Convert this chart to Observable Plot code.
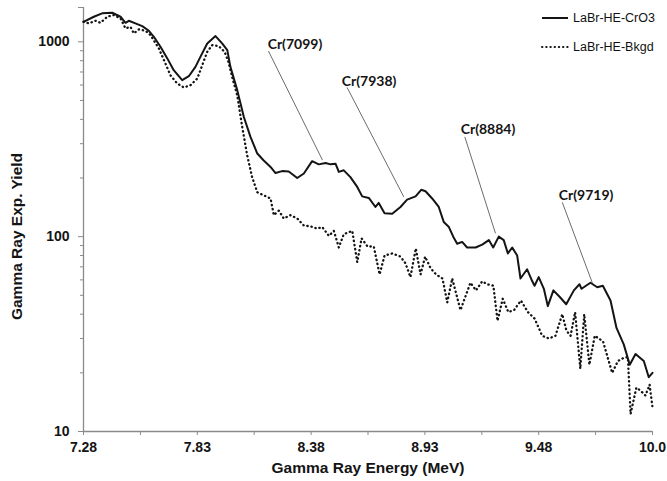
<!DOCTYPE html>
<html>
<head>
<meta charset="utf-8">
<script src="https://cdn.jsdelivr.net/npm/d3@7"></script>
<script src="https://cdn.jsdelivr.net/npm/@observablehq/plot@0.6"></script>
<style>
  html, body { margin: 0; padding: 0; background: #fff; overflow: hidden; }
  #chart { position: relative; width: 667px; height: 481px; }
  .legend-row { position: absolute; left: 541px; display: flex; align-items: center; height: 14px;
    font-family: "Liberation Sans", Arial, sans-serif; font-size: 12.5px; color: #111; }
  .legend-row svg { display: block; margin-right: 4px; }
</style>
</head>
<body>
<div id="chart"></div>
<script>
// LaBr-HE-CrO3 spectrum: gamma energy (MeV) and experimental yield
const crEnergy = [7.280, 7.330, 7.370, 7.419, 7.459, 7.483, 7.499, 7.531, 7.564, 7.596,
  7.620, 7.652, 7.685, 7.716, 7.757, 7.789, 7.821, 7.845, 7.878, 7.918,
  7.950, 7.975, 7.990, 8.023, 8.055, 8.087, 8.120, 8.151, 8.184, 8.208,
  8.240, 8.272, 8.313, 8.345, 8.385, 8.417, 8.450, 8.474, 8.498, 8.514,
  8.538, 8.570, 8.603, 8.627, 8.659, 8.691, 8.707, 8.735, 8.772, 8.812,
  8.844, 8.885, 8.912, 8.933, 8.965, 8.997, 9.021, 9.046, 9.067, 9.086,
  9.110, 9.134, 9.175, 9.207, 9.239, 9.260, 9.287, 9.311, 9.331, 9.352,
  9.376, 9.392, 9.424, 9.449, 9.460, 9.480, 9.505, 9.524, 9.551, 9.582,
  9.613, 9.650, 9.677, 9.687, 9.730, 9.763, 9.790, 9.827, 9.856, 9.891,
  9.920, 9.948, 9.988, 10.012, 10.030];
const crYield = [1267, 1345, 1400, 1410, 1345, 1252, 1282, 1243, 1204, 1139,
  1061, 943, 822, 715, 636, 666, 744, 837, 981, 1070,
  981, 906, 744, 565, 411, 325, 267, 246, 228, 212,
  217, 216, 200, 211, 244, 235, 239, 235, 237, 215,
  219, 202, 180, 161, 158, 142, 149, 132, 131, 142,
  155, 161, 174, 171, 157, 142, 119, 112, 100, 92,
  94, 88, 88, 91, 96, 88, 100, 96, 82, 88,
  80, 61, 68, 59, 56, 62, 54, 44, 53, 49,
  45, 53, 57, 54, 58, 55, 56, 47, 34, 28,
  22, 25, 23, 19, 20];

// LaBr-HE-Bkgd spectrum
const bkEnergy = [7.280, 7.306, 7.338, 7.362, 7.395, 7.426, 7.459, 7.483, 7.507, 7.523,
  7.547, 7.580, 7.604, 7.644, 7.676, 7.700, 7.733, 7.765, 7.797, 7.830,
  7.854, 7.878, 7.902, 7.934, 7.962, 7.981, 8.000, 8.023, 8.047, 8.071,
  8.095, 8.120, 8.151, 8.184, 8.200, 8.224, 8.248, 8.280, 8.313, 8.345,
  8.377, 8.409, 8.434, 8.466, 8.490, 8.514, 8.538, 8.579, 8.603, 8.624,
  8.653, 8.683, 8.711, 8.735, 8.772, 8.812, 8.836, 8.860, 8.886, 8.909,
  8.931, 8.957, 8.984, 9.015, 9.038, 9.062, 9.102, 9.150, 9.177, 9.207,
  9.231, 9.261, 9.281, 9.306, 9.333, 9.361, 9.394, 9.428, 9.460, 9.497,
  9.529, 9.561, 9.594, 9.614, 9.634, 9.656, 9.681, 9.700, 9.725, 9.751,
  9.791, 9.835, 9.863, 9.895, 9.911, 9.924, 9.952, 9.972, 9.996, 10.016,
  10.030];
const bkYield = [1267, 1243, 1282, 1252, 1345, 1372, 1319, 1172, 1194, 1105,
  1158, 1139, 1082, 925, 774, 674, 611, 583, 599, 648,
  759, 888, 962, 950, 888, 786, 651, 532, 366, 262,
  202, 169, 163, 157, 129, 136, 124, 129, 124, 114,
  113, 110, 112, 101, 107, 88, 103, 107, 74, 98,
  89, 89, 64, 80, 82, 79, 73, 62, 87, 64,
  79, 69, 64, 61, 46, 61, 42, 58, 53, 59,
  57, 56, 37, 48, 41, 42, 47, 41, 38, 31,
  30, 31, 40, 33, 31, 41, 21, 40, 22, 31,
  29, 20, 23, 24, 24, 12.3, 16.8, 16.2, 15.3, 17.4,
  13.3];

const seriesNames = ["LaBr-HE-CrO3", "LaBr-HE-Bkgd"];
const xTitle = "Gamma Ray Energy (MeV)";
const yTitle = "Gamma Ray Exp. Yield";

// Axis ticks
const xTickValues = [7.28, 7.83, 8.38, 8.93, 9.48, 10.03];
const xTickLabels = ["7.28", "7.83", "8.38", "8.93", "9.48", "10.0"];
const xMinorTicks = [7.555, 8.105, 8.655, 9.205, 9.755];
const yTickValues = [10, 100, 1000];
const yTickLabels = ["10", "100", "1000"];
const yMinorTicks = [20, 30, 40, 50, 60, 70, 80, 90, 200, 300, 400, 500, 600, 700, 800, 900];
const yTop = 1500;

// Cr peak annotations: label anchor and leader line ends, in (MeV, yield)
const peakLabels = ["Cr(7099)", "Cr(7938)", "Cr(8884)", "Cr(9719)"];
const peakTextEnergy = [8.302, 8.660, 9.235, 9.709];
const peakTextYield = [973, 628, 356, 163];
const leaderFromEnergy = [8.174, 8.554, 9.123, 9.594];
const leaderFromYield = [896, 583, 325, 150];
const leaderToEnergy = [8.435, 8.828, 9.271, 9.739];
const leaderToYield = [247, 160, 104, 58];

const cr = crEnergy.map((e, i) => ({energy: e, yield: crYield[i]}));
const bk = bkEnergy.map((e, i) => ({energy: e, yield: bkYield[i]}));
const peaks = peakLabels.map((label, i) => ({
  label,
  tx: peakTextEnergy[i], ty: peakTextYield[i],
  x1: leaderFromEnergy[i], y1: leaderFromYield[i],
  x2: leaderToEnergy[i], y2: leaderToYield[i]
}));
const yLabelRows = yTickValues.map((v, i) => ({value: v, label: yTickLabels[i]}));

const axisGray = "#8a8a8a";
const ink = "#141414";
const dotPattern = "0.4,3.8";

const chart = Plot.plot({
  width: 667,
  height: 481,
  marginLeft: 83,
  marginRight: 15,
  marginTop: 7,
  marginBottom: 50,
  style: {fontFamily: "'Liberation Sans', Arial, sans-serif", fontSize: "14px", background: "#fff", color: ink},
  x: {domain: [7.28, 10.03]},
  y: {type: "log", domain: [10, yTop]},
  marks: [
    // axis lines
    Plot.ruleY([10], {x1: 7.28, x2: 10.03, stroke: axisGray, strokeWidth: 1.3}),
    Plot.ruleX([7.28], {y1: 10, y2: yTop, stroke: axisGray, strokeWidth: 1.3}),
    // x axis: labelled and unlabelled ticks
    Plot.axisX({
      ticks: xTickValues,
      tickFormat: (d, i) => xTickLabels[i],
      tickSize: 4, tickPadding: 7,
      stroke: axisGray, fill: ink,
      fontWeight: "bold", fontSize: 14,
      label: null
    }),
    Plot.axisX(xMinorTicks, {tickSize: 4, tickFormat: () => "", label: null, stroke: axisGray}),
    // y axis: decade ticks, minor ticks and top end tick
    Plot.axisY(yTickValues, {tickSize: 5, tickFormat: () => "", label: null, stroke: axisGray}),
    Plot.axisY(yMinorTicks, {tickSize: 3, tickFormat: () => "", label: null, stroke: axisGray}),
    Plot.axisY([yTop], {tickSize: 5, tickFormat: () => "", label: null, stroke: axisGray}),
    // decade labels
    Plot.text(yLabelRows, {
      x: () => 7.28, y: "value", text: "label",
      textAnchor: "end", dx: -14, fontWeight: "bold", fontSize: 14, fill: ink
    }),
    // axis titles
    Plot.text([xTitle], {frameAnchor: "bottom", dy: 41.5, text: d => d,
      textAnchor: "middle", lineAnchor: "bottom", fontWeight: "bold", fontSize: 15.5, fill: ink}),
    Plot.text([yTitle], {frameAnchor: "left", dx: -66, dy: 17, rotate: -90, text: d => d,
      textAnchor: "middle", lineAnchor: "middle", fontWeight: "bold", fontSize: 15.5, fill: ink}),
    // spectra
    Plot.line(bk, {x: "energy", y: "yield", stroke: ink, strokeWidth: 2.3,
      strokeDasharray: dotPattern, strokeLinecap: "round"}),
    Plot.line(cr, {x: "energy", y: "yield", stroke: ink, strokeWidth: 2}),
    // peak annotations
    Plot.link(peaks, {x1: "x1", y1: "y1", x2: "x2", y2: "y2", stroke: "#5a5a5a", strokeWidth: 0.9}),
    Plot.text(peaks, {x: "tx", y: "ty", text: "label", fontFamily: "Lato, 'Open Sans', sans-serif",
      fontWeight: "bold", fontSize: 14, fill: ink})
  ]
});

const host = document.getElementById("chart");
host.appendChild(chart);

// legend in the upper right corner of the plot area
const legendRows = [
  {name: seriesNames[0], dash: null, top: 10.5},
  {name: seriesNames[1], dash: dotPattern, top: 40}
];
for (const row of legendRows) {
  const div = document.createElement("div");
  div.className = "legend-row";
  div.style.top = row.top + "px";
  div.innerHTML =
    `<svg width="28" height="6"><line x1="1" y1="3" x2="27" y2="3" stroke="${ink}" stroke-width="2"` +
    (row.dash ? ` stroke-dasharray="${row.dash}" stroke-linecap="round" stroke-width="2.2"` : "") +
    `/></svg><span>${row.name}</span>`;
  host.appendChild(div);
}
</script>
</body>
</html>
